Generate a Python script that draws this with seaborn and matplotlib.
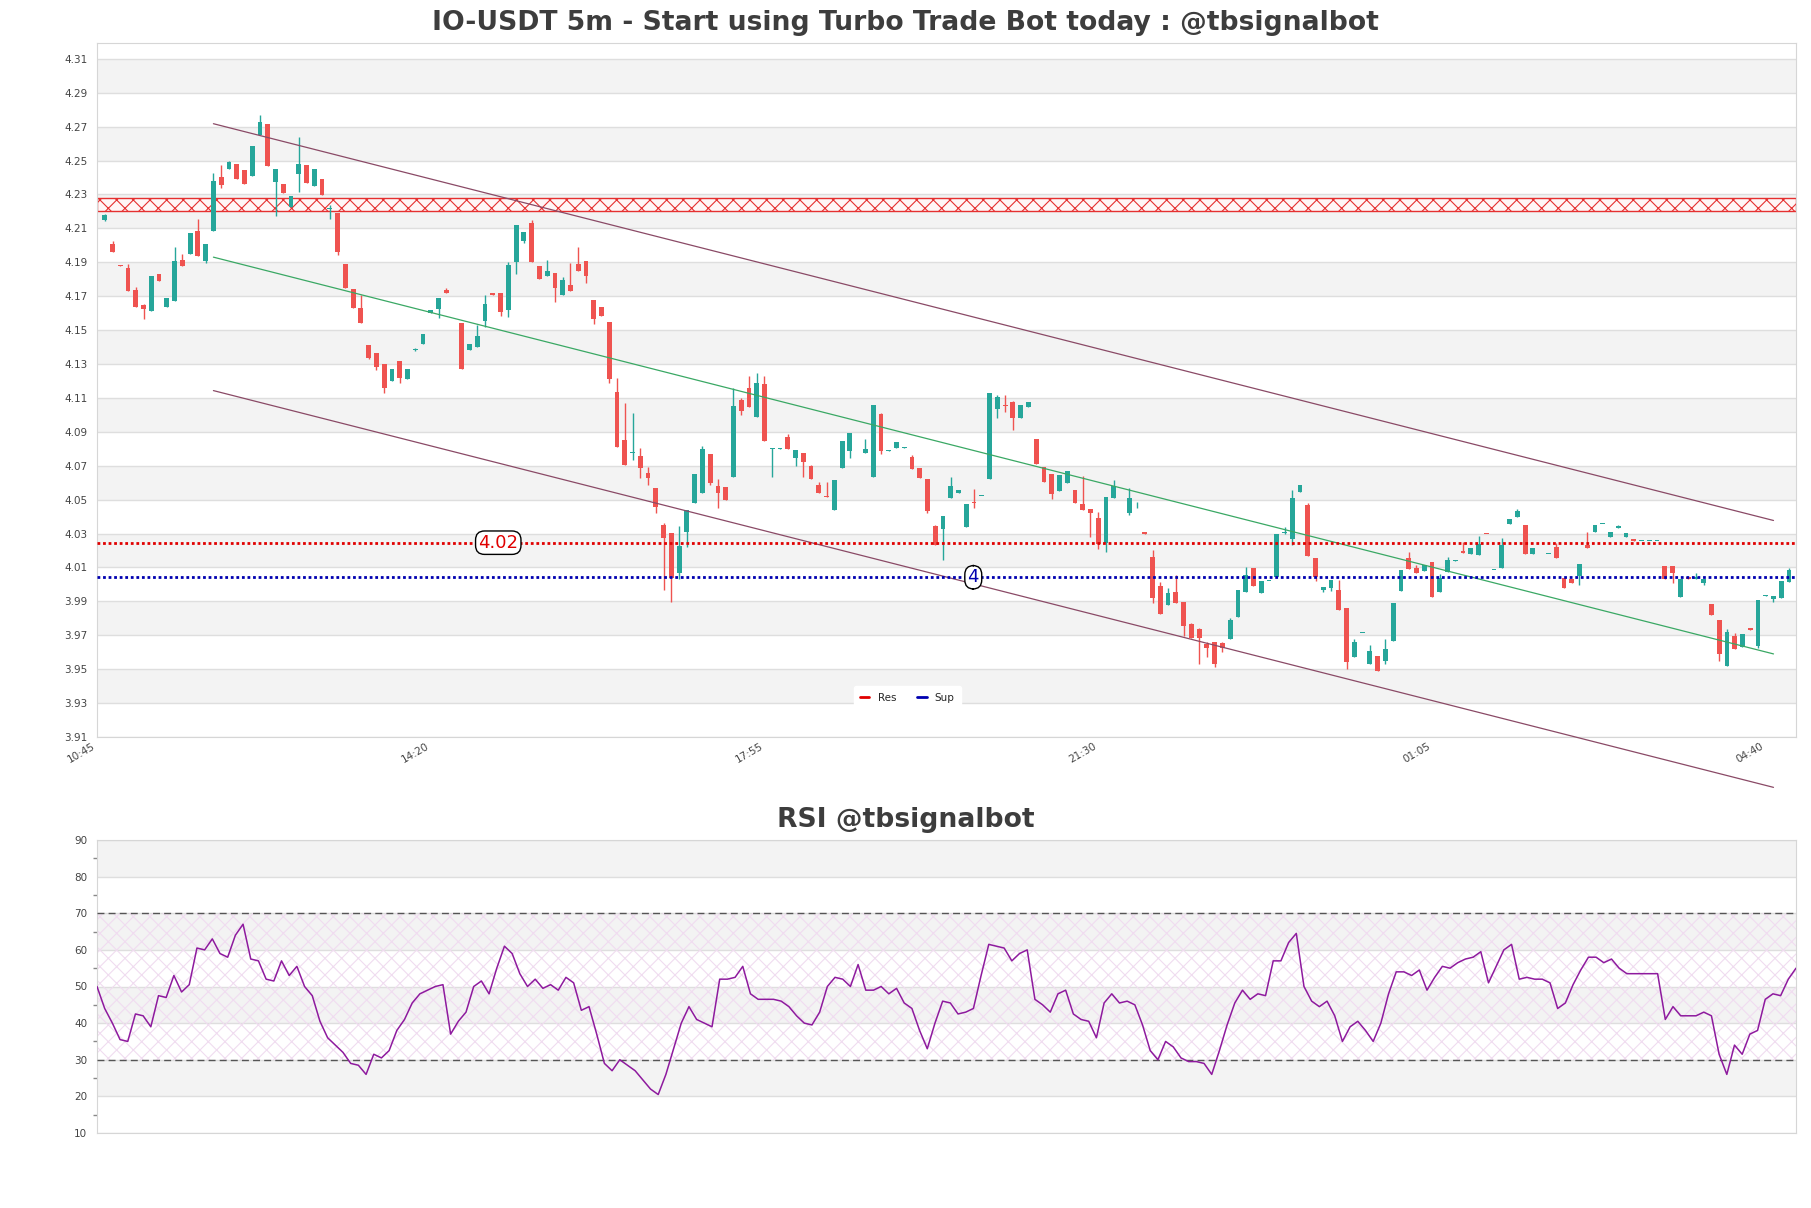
import numpy as np
import pandas as pd
import matplotlib
matplotlib.use("Agg")
import matplotlib.pyplot as plt
import seaborn as sns
from matplotlib.lines import Line2D

sns.set_theme(style="white")
plt.rcParams["font.family"] = ["DejaVu Sans"]
plt.rcParams["hatch.linewidth"] = 0.8

# ---------------- data ----------------
opens = [4.2150,4.2008,4.1882,4.1867,4.1737,4.1648,4.1615,4.1831,4.1638,4.1674,
         4.1914,4.1951,4.2085,4.1910,4.2087,4.2404,4.2449,4.2480,4.2445,4.2408,
         4.2651,4.2716,4.2376,4.2362,4.2223,4.2421,4.2474,4.2347,4.2392,4.2215,
         4.2193,4.1890,4.1741,4.1629,4.1412,4.1367,4.1300,4.1202,4.1316,4.1210,
         4.1383,4.1416,4.1599,4.1625,4.1737,4.1764,4.1540,4.1383,4.1399,4.1556,
         4.1717,4.1717,4.1619,4.1904,4.2028,4.2130,4.1879,4.1820,4.1835,4.1707,
         4.1766,4.1890,4.1908,4.1678,4.1635,4.1546,4.1133,4.0852,4.0773,4.0757,
         4.0655,4.0567,4.0350,4.0301,4.0069,4.0311,4.0478,4.0541,4.0769,4.0580,
         4.0573,4.0631,4.1088,4.1157,4.0990,4.1182,4.0799,4.0801,4.0868,4.0744,
         4.0773,4.0699,4.0586,4.0520,4.0439,4.0689,4.0789,4.0850,4.0773,4.0636,
         4.1005,4.0787,4.0807,4.0807,4.0750,4.0689,4.0622,4.0344,4.0327,4.0512,
         4.0537,4.0341,4.0486,4.0520,4.0620,4.1033,4.1058,4.1074,4.0980,4.1045,
         4.0856,4.0695,4.0651,4.0553,4.0600,4.0557,4.0474,4.0443,4.0390,4.0246,
         4.0512,4.0495,4.0423,4.0472,4.0307,4.0164,3.9991,3.9878,3.9955,3.9896,
         3.9766,3.9735,3.9646,3.9662,3.9652,3.9676,3.9810,3.9957,4.0099,3.9947,
         4.0020,4.0046,4.0301,4.0266,4.0543,4.0468,4.0158,3.9967,3.9981,3.9967,
         3.9863,3.9573,3.9713,3.9528,3.9577,3.9550,3.9668,3.9963,4.0158,4.0099,
         4.0081,4.0134,3.9957,4.0071,4.0140,4.0199,4.0179,4.0173,4.0298,4.0085,
         4.0099,4.0354,4.0400,4.0350,4.0177,4.0218,4.0179,4.0219,4.0036,4.0030,
         4.0049,4.0232,4.0307,4.0356,4.0282,4.0335,4.0282,4.0266,4.0256,4.0256,
         4.0256,4.0109,4.0109,3.9928,4.0042,4.0030,4.0010,3.9882,3.9790,3.9520,
         3.9695,3.9633,3.9741,3.9636,3.9934,3.9916,3.9918,4.0016]
highs = [4.2182,4.2026,4.1884,4.1890,4.1752,4.1654,4.1819,4.1831,4.1690,4.1987,
         4.1949,4.2073,4.2156,4.2008,4.2429,4.2474,4.2498,4.2480,4.2445,4.2587,
         4.2769,4.2716,4.2449,4.2362,4.2292,4.2636,4.2474,4.2449,4.2392,4.2238,
         4.2193,4.1890,4.1741,4.1707,4.1412,4.1367,4.1300,4.1269,4.1316,4.1269,
         4.1393,4.1475,4.1621,4.1688,4.1747,4.1766,4.1540,4.1416,4.1530,4.1707,
         4.1717,4.1717,4.1904,4.2120,4.2081,4.2150,4.1879,4.1914,4.1835,4.1812,
         4.1894,4.1989,4.1908,4.1678,4.1635,4.1546,4.1216,4.1068,4.1013,4.0803,
         4.0694,4.0567,4.0364,4.0301,4.0344,4.0439,4.0651,4.0816,4.0769,4.0620,
         4.0573,4.1157,4.1098,4.1229,4.1245,4.1230,4.0803,4.0803,4.0887,4.0793,
         4.0773,4.0704,4.0606,4.0606,4.0616,4.0846,4.0891,4.0852,4.0858,4.1058,
         4.1013,4.0791,4.0838,4.0809,4.0763,4.0689,4.0622,4.0350,4.0403,4.0632,
         4.0555,4.0472,4.0563,4.0522,4.1127,4.1117,4.1117,4.1084,4.1058,4.1074,
         4.0856,4.0695,4.0651,4.0645,4.0671,4.0557,4.0640,4.0443,4.0429,4.0514,
         4.0616,4.0497,4.0567,4.0488,4.0307,4.0203,4.0016,3.9977,4.0055,3.9896,
         3.9774,3.9745,3.9662,3.9662,3.9662,3.9800,3.9967,4.0105,4.0099,4.0020,
         4.0022,4.0297,4.0341,4.0557,4.0587,4.0482,4.0158,3.9983,4.0026,4.0026,
         3.9863,3.9678,3.9715,3.9642,3.9577,3.9676,3.9888,4.0085,4.0193,4.0114,
         4.0114,4.0134,4.0059,4.0160,4.0142,4.0252,4.0213,4.0286,4.0298,4.0087,
         4.0272,4.0384,4.0443,4.0350,4.0213,4.0220,4.0181,4.0246,4.0036,4.0030,
         4.0118,4.0307,4.0350,4.0358,4.0311,4.0349,4.0301,4.0266,4.0258,4.0258,
         4.0258,4.0109,4.0109,4.0030,4.0042,4.0065,4.0032,3.9882,3.9790,3.9737,
         3.9711,3.9707,3.9741,3.9908,3.9936,3.9932,4.0020,4.0095]
lows = [4.2146,4.1963,4.1876,4.1733,4.1638,4.1568,4.1615,4.1790,4.1638,4.1674,
        4.1880,4.1951,4.1934,4.1898,4.2087,4.2335,4.2449,4.2390,4.2364,4.2408,
        4.2651,4.2470,4.2170,4.2311,4.2223,4.2317,4.2370,4.2347,4.2297,4.2154,
        4.1940,4.1751,4.1629,4.1540,4.1328,4.1265,4.1127,4.1202,4.1190,4.1210,
        4.1379,4.1416,4.1599,4.1570,4.1721,4.1764,4.1269,4.1383,4.1399,4.1521,
        4.1709,4.1585,4.1576,4.1831,4.2012,4.1904,4.1804,4.1820,4.1668,4.1707,
        4.1731,4.1849,4.1776,4.1536,4.1585,4.1186,4.0812,4.0704,4.0734,4.0626,
        4.0586,4.0423,3.9967,3.9898,4.0030,4.0218,4.0478,4.0541,4.0586,4.0449,
        4.0498,4.0631,4.1000,4.1045,4.0990,4.0848,4.0636,4.0801,4.0801,4.0700,
        4.0636,4.0620,4.0537,4.0514,4.0439,4.0689,4.0744,4.0850,4.0773,4.0636,
        4.0767,4.0787,4.0807,4.0807,4.0683,4.0630,4.0419,4.0232,4.0144,4.0512,
        4.0537,4.0341,4.0453,4.0520,4.0620,4.0980,4.1019,4.0911,4.0980,4.1045,
        4.0710,4.0606,4.0502,4.0553,4.0600,4.0482,4.0439,4.0282,4.0207,4.0193,
        4.0512,4.0495,4.0408,4.0449,4.0297,3.9892,3.9823,3.9878,3.9892,3.9697,
        3.9686,3.9530,3.9570,3.9515,3.9603,3.9676,3.9810,3.9957,3.9993,3.9947,
        4.0020,4.0046,4.0297,4.0232,4.0543,4.0169,4.0022,3.9957,3.9963,3.9849,
        3.9499,3.9573,3.9713,3.9528,3.9491,3.9530,3.9668,3.9963,4.0089,4.0065,
        4.0081,3.9924,3.9957,4.0071,4.0140,4.0187,4.0179,4.0173,4.0296,4.0085,
        4.0099,4.0354,4.0400,4.0177,4.0177,4.0218,4.0179,4.0154,3.9977,4.0006,
        3.9996,4.0213,4.0307,4.0356,4.0282,4.0335,4.0282,4.0258,4.0256,4.0256,
        4.0256,4.0030,4.0010,3.9928,4.0030,4.0030,3.9996,3.9819,3.9548,3.9520,
        3.9617,3.9633,3.9731,3.9627,3.9934,3.9898,3.9918,4.0016]
closes = [4.2179,4.1963,4.1878,4.1733,4.1638,4.1625,4.1819,4.1790,4.1690,4.1908,
          4.1880,4.2073,4.1934,4.2008,4.2380,4.2358,4.2492,4.2390,4.2364,4.2587,
          4.2728,4.2470,4.2449,4.2311,4.2292,4.2480,4.2370,4.2449,4.2297,4.2221,
          4.1963,4.1751,4.1629,4.1540,4.1334,4.1284,4.1157,4.1269,4.1216,4.1269,
          4.1389,4.1475,4.1621,4.1688,4.1721,4.1766,4.1269,4.1416,4.1465,4.1652,
          4.1709,4.1609,4.1884,4.2120,4.2081,4.1904,4.1804,4.1849,4.1747,4.1796,
          4.1731,4.1849,4.1821,4.1564,4.1585,4.1212,4.0812,4.0704,4.0779,4.0685,
          4.0626,4.0454,4.0272,4.0036,4.0226,4.0439,4.0651,4.0797,4.0596,4.0537,
          4.0498,4.1052,4.1025,4.1045,4.1186,4.0848,4.0803,4.0803,4.0801,4.0793,
          4.0724,4.0620,4.0537,4.0514,4.0616,4.0846,4.0891,4.0852,4.0799,4.1058,
          4.0787,4.0791,4.0838,4.0809,4.0683,4.0630,4.0435,4.0232,4.0403,4.0580,
          4.0555,4.0472,4.0478,4.0522,4.1127,4.1104,4.1054,4.0980,4.1058,4.1074,
          4.0710,4.0606,4.0533,4.0645,4.0671,4.0482,4.0439,4.0419,4.0238,4.0514,
          4.0581,4.0497,4.0512,4.0474,4.0297,3.9918,3.9823,3.9951,3.9892,3.9756,
          3.9686,3.9682,3.9627,3.9528,3.9623,3.9790,3.9967,4.0055,3.9993,4.0020,
          4.0022,4.0297,4.0311,4.0512,4.0587,4.0169,4.0046,3.9983,4.0026,3.9849,
          3.9544,3.9662,3.9715,3.9607,3.9491,3.9619,3.9888,4.0085,4.0089,4.0065,
          4.0114,3.9924,4.0040,4.0144,4.0142,4.0187,4.0213,4.0236,4.0296,4.0087,
          4.0232,4.0384,4.0433,4.0177,4.0213,4.0220,4.0181,4.0154,3.9977,4.0006,
          4.0118,4.0213,4.0350,4.0358,4.0311,4.0345,4.0301,4.0258,4.0258,4.0258,
          4.0258,4.0030,4.0069,4.0030,4.0030,4.0042,4.0032,3.9819,3.9587,3.9721,
          3.9617,3.9707,3.9731,3.9908,3.9936,3.9932,4.0020,4.0085]

rsi_values = [50,44,40,35.5,35,42.5,42,39,47.5,47,
              53,48.5,50.5,60.5,60,63,59,58,64,67,
              57.5,57,52,51.5,57,53,55.5,50,47.5,40.5,
              36,34,32,29,28.5,26,31.5,30.5,32.5,38,
              41,45.5,48,49,50,50.5,37,40.5,43,50,
              51.5,48,55,61,59,53.5,50,52,49.5,50.5,
              49,52.5,51,43.5,44.5,37,29,27,30,28.5,
              27,24.5,22,20.5,26,33,40,44.5,41,40,
              39,52,52,52.5,55.5,48,46.5,46.5,46.5,46,
              44.5,42,40,39.5,43,50,52.5,52,50,56,
              49,49,50,48,49.5,45.5,44,38,33,40,
              46,45.5,42.5,43,44,53,61.5,61,60.5,57,
              59,60,46.5,45,43,48,49,42.5,41,40.5,
              36,45.5,48,45.5,46,45,39.5,32.5,30,35,
              33.5,30.5,29.5,29.5,29,26,32.5,39.5,45.5,49,
              46.5,48,47.5,57,57,62,64.5,50,46,44.5,
              46,42,35,39,40.5,38,35,40,48,54,
              54,53,54.5,49,52.5,55.5,55,56.5,57.5,58,
              59.5,51,55.5,60,61.5,52,52.5,52,52,51,
              44,45.5,50.5,54.5,58,58,56.5,57.5,55,53.5,
              53.5,53.5,53.5,53.5,41,44.5,42,42,42,43,
              42,31.5,26,34,31.5,37,38,46.5,48,47.5,52,55]

tick_labels = ["10:45", "14:20", "17:55", "21:30", "01:05", "04:40"]
tick_pos = [0, 43, 86, 129, 172, 215]

chan_x = [15, 216]
chan_mid = [4.1930, 3.9590]
chan_half = 0.0787

zone_lo, zone_hi = 4.2200, 4.2280
res_level = 4.0246
sup_level = 4.0042
res_label, sup_label = "4.02", "4"

title = "IO-USDT 5m - Start using Turbo Trade Bot today : @tbsignalbot"
rsi_title = "RSI @tbsignalbot"

# ---------------- figure ----------------
W, H = 1811, 1208
fig = plt.figure(figsize=(W / 100, H / 100), dpi=100)
left, right = 97 / W, 1796 / W
ax = fig.add_axes([left, 1 - 737 / H, right - left, (737 - 43) / H])
ax2 = fig.add_axes([left, 1 - 1133 / H, right - left, (1133 - 840) / H])

GREEN = "#26a69a"
RED = "#ef5350"
TXT = "#444444"

df = pd.DataFrame({"o": opens, "h": highs, "l": lows, "c": closes})
df["k"] = np.arange(1, len(df) + 1)
df["up"] = df["c"] >= df["o"]

# background bands + grid
ymin, ymax = 3.91, 4.3193
for i in range(20):
    hi = 4.31 - 0.02 * i
    if i % 2 == 0:
        ax.axhspan(hi - 0.02, hi, color="#f3f3f3", zorder=0, lw=0)
ax.set_yticks(np.round(np.arange(3.91, 4.3101, 0.02), 2))
ax.yaxis.grid(True, color="#dedede", lw=1.0, zorder=0.5)
ax.xaxis.grid(False)
ax.set_axisbelow(True)

# candles
body_min = 0.00045
for _, r in df.iterrows():
    col = GREEN if r.up else RED
    lo_b = min(r.o, r.c)
    hb = max(abs(r.c - r.o), body_min)
    ax.vlines(r.k, r.l, r.h, color=col, lw=1.0, zorder=3)
    ax.bar(r.k, hb, bottom=lo_b, width=0.62, color=col, lw=0, zorder=4)

# resistance zone
ax.axhspan(zone_lo, zone_hi, facecolor="#fff6f6", edgecolor="#e53030",
           hatch="xx", lw=1.0, zorder=2)

# channel
cx = np.array(chan_x, dtype=float)
cm = np.array(chan_mid)
chan = pd.DataFrame({"x": np.concatenate([cx, cx, cx]),
                     "y": np.concatenate([cm, cm + chan_half, cm - chan_half]),
                     "line": ["mid"] * 2 + ["up"] * 2 + ["low"] * 2})
sns.lineplot(data=chan[chan.line == "mid"], x="x", y="y", ax=ax,
             color="#3aa864", lw=0.9, zorder=5, legend=False)
for nm in ["up", "low"]:
    sub = chan[chan.line == nm]
    ln, = ax.plot(sub.x, sub.y, color="#8a4a66", lw=0.9, zorder=5)
    ln.set_clip_on(False)

# res/sup
ax.axhline(res_level, color="#e00000", lw=2.0, ls=(0, (1, 1)), zorder=6)
ax.axhline(sup_level, color="#0000b0", lw=2.0, ls=(0, (1, 1)), zorder=6)
ax.text(51.7, res_level, res_label, color="#e00000", fontsize=13,
        ha="center", va="center", zorder=7,
        bbox=dict(boxstyle="round,pad=0.15,rounding_size=0.5", fc="white", ec="black", lw=1))
ax.text(112.9, sup_level, sup_label, color="#0000b0", fontsize=13,
        ha="center", va="center", zorder=7,
        bbox=dict(boxstyle="round,pad=0.15,rounding_size=0.5", fc="white", ec="black", lw=1))

handles = [Line2D([0], [0], color="#e00000", lw=2), Line2D([0], [0], color="#0000b0", lw=2)]
leg = ax.legend(handles, ["Res", "Sup"], loc="lower center", bbox_to_anchor=(0.477, 0.033),
                ncol=2, fontsize=7.5, frameon=True, handlelength=0.9, columnspacing=2.0,
                borderpad=0.6)
leg.get_frame().set_facecolor("white")
leg.get_frame().set_edgecolor("white")
leg.get_frame().set_alpha(1)
leg.set_zorder(10)

ax.set_xlim(0, 218.9)
ax.set_ylim(ymin, ymax)
ax.set_xticks(tick_pos)
ax.set_xticklabels(tick_labels, rotation=30, ha="right", fontsize=7.5, color=TXT)
ax.tick_params(axis="y", labelsize=7.5, labelcolor=TXT, length=0, pad=7)
ax.tick_params(axis="x", length=0, pad=3)
ax.set_yticklabels([f"{v:.2f}" for v in ax.get_yticks()])
ax.set_xlabel("")
ax.set_ylabel("")
for s in ax.spines.values():
    s.set_color("#d6d6d6")
    s.set_linewidth(0.8)

# ---------------- RSI ----------------
for lo in [20, 40, 60, 80]:
    ax2.axhspan(lo, lo + 10, color="#f3f3f3", zorder=0, lw=0)
ax2.axhspan(30, 70, facecolor="none", edgecolor="#f0dcf0", hatch="xx", lw=0, zorder=1)
ax2.set_yticks(range(10, 91, 10))
ax2.yaxis.grid(True, color="#dedede", lw=1.0)
ax2.set_axisbelow(True)
ax2.axhline(70, color="#555555", lw=1.0, ls=(0, (5, 3)), zorder=3)
ax2.axhline(30, color="#555555", lw=1.0, ls=(0, (5, 3)), zorder=3)
rsi_df = pd.DataFrame({"x": np.linspace(1, len(closes), len(rsi_values)), "rsi": rsi_values})
sns.lineplot(data=rsi_df, x="x", y="rsi", ax=ax2, color="#8e1a9e", lw=1.1, zorder=4)
ax2.set_xlim(1, len(closes))
ax2.set_ylim(10, 90)
ax2.set_xticks([])
ax2.set_yticks(range(15, 90, 10), minor=True)
ax2.tick_params(axis="y", which="major", labelsize=7.5, labelcolor=TXT, length=0, pad=7)
ax2.tick_params(axis="y", which="minor", length=3, color="#888888", left=True)
ax2.set_xlabel("")
ax2.set_ylabel("")
for s in ax2.spines.values():
    s.set_color("#d6d6d6")
    s.set_linewidth(0.8)

fig.text(0.5, 1 - 23 / H, title, ha="center", va="center", fontsize=19.2,
         fontweight="bold", color="#3d3d3d")
fig.text(0.5, 1 - 820 / H, rsi_title, ha="center", va="center", fontsize=19.2,
         fontweight="bold", color="#3d3d3d")

fig.savefig("out.png", dpi=100)
